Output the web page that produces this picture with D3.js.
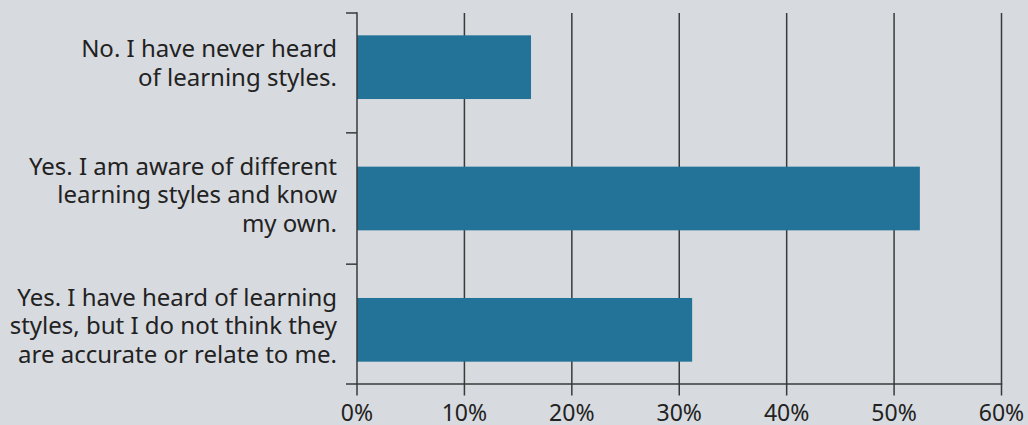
<!DOCTYPE html>
<html>
<head>
<meta charset="utf-8">
<script src="https://cdn.jsdelivr.net/npm/d3@7"></script>
<style>
  html, body { margin: 0; padding: 0; background: #d7dadf; }
  svg { display: block; font-family: "Noto Sans", "Open Sans", sans-serif; }
</style>
</head>
<body>
<svg id="chart" width="1028" height="425"></svg>
<script>
const categories = [
  ["No. I have never heard", "of learning styles."],
  ["Yes. I am aware of different", "learning styles and know", "my own."],
  ["Yes. I have heard of learning", "styles, but I do not think they", "are accurate or relate to me."]
];
const values = [16.2, 52.4, 31.2];
const xTicks = [0, 10, 20, 30, 40, 50, 60];
const xTickLabels = ["0%", "10%", "20%", "30%", "40%", "50%", "60%"];

const svg = d3.select("#chart");
const bg = "#d7dadf";
const lineColor = "#3a3a3a";
const barColor = "#237399";
const textColor = "#222222";

const left = 357, right = 1001.5;
const plotTop = 13, axisY = 384, tickBottom = 395.5;

const x = d3.scaleLinear().domain([0, 60]).range([left, right]);
const y = d3.scaleBand().domain(d3.range(categories.length)).range([1.5, 395.5]).paddingInner(0.515).paddingOuter(0.2575);

svg.append("rect").attr("width", 1028).attr("height", 425).attr("fill", bg);

// vertical gridlines (extending below as ticks)
svg.append("g").selectAll("line").data(xTicks.slice(1)).join("line")
  .attr("x1", d => x(d)).attr("x2", d => x(d))
  .attr("y1", plotTop).attr("y2", tickBottom)
  .attr("stroke", lineColor).attr("stroke-width", 1.5);

// bars
svg.append("g").selectAll("rect").data(values).join("rect")
  .attr("x", x(0))
  .attr("y", (d, i) => y(i))
  .attr("width", d => x(d) - x(0))
  .attr("height", y.bandwidth())
  .attr("fill", barColor);

// x axis line
svg.append("line").attr("x1", 346).attr("x2", right + 0.75).attr("y1", axisY).attr("y2", axisY)
  .attr("stroke", lineColor).attr("stroke-width", 1.5);

// y axis line
svg.append("line").attr("x1", left).attr("x2", left).attr("y1", plotTop - 0.75).attr("y2", tickBottom)
  .attr("stroke", lineColor).attr("stroke-width", 1.5);

// y axis ticks at band boundaries
const yTickPos = [plotTop, y(1) - y.step() * y.paddingInner() / 2, y(2) - y.step() * y.paddingInner() / 2];
svg.append("g").selectAll("line").data(yTickPos).join("line")
  .attr("x1", 346).attr("x2", left).attr("y1", d => d).attr("y2", d => d)
  .attr("stroke", lineColor).attr("stroke-width", 1.5);

// x tick labels
svg.append("g").selectAll("text").data(xTicks).join("text")
  .attr("x", d => x(d)).attr("y", 421)
  .attr("text-anchor", "middle")
  .attr("font-size", 23)
  .attr("fill", textColor)
  .text((d, i) => xTickLabels[i]);

// category labels
const lineH = 28.5;
const labelG = svg.append("g");
categories.forEach((lines, i) => {
  const cy = y(i) + y.bandwidth() / 2 - 4;
  const n = lines.length;
  const t = labelG.append("text")
    .attr("text-anchor", "end")
    .attr("font-size", 24)
    .attr("fill", textColor);
  lines.forEach((ln, j) => {
    t.append("tspan")
      .attr("x", 337)
      .attr("y", cy + (j - (n - 1) / 2) * lineH + 8.5)
      .text(ln);
  });
});
</script>
</body>
</html>
